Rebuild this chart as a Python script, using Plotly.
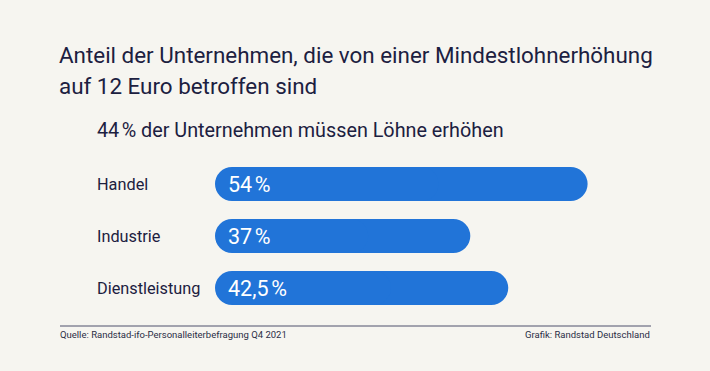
import plotly.graph_objects as go

categories = ["Handel", "Industrie", "Dienstleistung"]
values = [54, 37, 42.5]
value_labels = ["54\u202f%", "37\u202f%", "42,5\u202f%"]
title_lines = ["Anteil der Unternehmen, die von einer Mindestlohnerhöhung",
               "auf 12 Euro betroffen sind"]
subtitle = "44\u202f% der Unternehmen müssen Löhne erhöhen"
source = "Quelle: Randstad-ifo-Personalleiterbefragung Q4 2021"
credit = "Grafik: Randstad Deutschland"

W, H = 710, 371
L, R, T, B = 215, 80, 150, 51
PW, PH = W - L - R, H - T - B
BG = "#f6f5f0"
NAVY = "#1c2040"
BLUE = "#2174d8"
FONT = "Roboto, sans-serif"


def px(x):
    return (x - L) / PW


def py(y):
    return (H - B - y) / PH


fig = go.Figure()
fig.add_trace(go.Bar(
    y=categories, x=[v * 0.6 for v in values], base=[v * 0.4 for v in values],
    orientation="h", marker=dict(color=BLUE, line=dict(width=0), cornerradius=17),
    width=0.654, hoverinfo="skip", showlegend=False))
fig.add_trace(go.Bar(
    y=categories, x=[-v * 0.6 for v in values], base=[v * 0.6 for v in values],
    orientation="h", marker=dict(color=BLUE, line=dict(width=0), cornerradius=17),
    width=0.654, hoverinfo="skip", showlegend=False))

ann = []
for c, lab in zip(categories, value_labels):
    ann.append(dict(x=0, y=c, xref="x", yref="y", text=lab, showarrow=False,
                    xanchor="left", yanchor="middle", xshift=11,
                    font=dict(family=FONT, size=21.5, color="white")))
    ann.append(dict(x=px(95), y=c, xref="paper", yref="y", text=c, showarrow=False,
                    xanchor="left", yanchor="middle",
                    font=dict(family=FONT, size=16.3, color=NAVY)))

ann.append(dict(x=px(57), y=py(55), xref="paper", yref="paper", text=title_lines[0],
                showarrow=False, xanchor="left", yanchor="middle",
                font=dict(family=FONT, size=22.4, color=NAVY)))
ann.append(dict(x=px(57), y=py(86), xref="paper", yref="paper", text=title_lines[1],
                showarrow=False, xanchor="left", yanchor="middle",
                font=dict(family=FONT, size=22.4, color=NAVY)))
ann.append(dict(x=px(95), y=py(130), xref="paper", yref="paper", text=subtitle,
                showarrow=False, xanchor="left", yanchor="middle",
                font=dict(family=FONT, size=19.8, color=NAVY)))
ann.append(dict(x=px(58), y=py(334), xref="paper", yref="paper", text=source,
                showarrow=False, xanchor="left", yanchor="middle",
                font=dict(family=FONT, size=9.5, color="#2a2d45")))
ann.append(dict(x=px(652), y=py(334), xref="paper", yref="paper", text=credit,
                showarrow=False, xanchor="right", yanchor="middle",
                font=dict(family=FONT, size=9.5, color="#2a2d45")))

fig.update_layout(
    width=W, height=H, margin=dict(l=L, r=R, t=T, b=B),
    paper_bgcolor=BG, plot_bgcolor=BG, barmode="overlay",
    xaxis=dict(range=[0, PW / 6.9], visible=False, fixedrange=True),
    yaxis=dict(type="category", categoryarray=categories, range=[2.615, -0.654],
               visible=False, fixedrange=True),
    annotations=ann,
    shapes=[dict(type="line", xref="paper", yref="paper", x0=px(60), x1=px(651),
                 y0=py(326), y1=py(326), line=dict(color="#4e516c", width=1))],
)

fig.write_html("out.html", config={"displayModeBar": False},
               post_script="document.body.style.margin='0';document.body.style.background='%s';" % BG)
